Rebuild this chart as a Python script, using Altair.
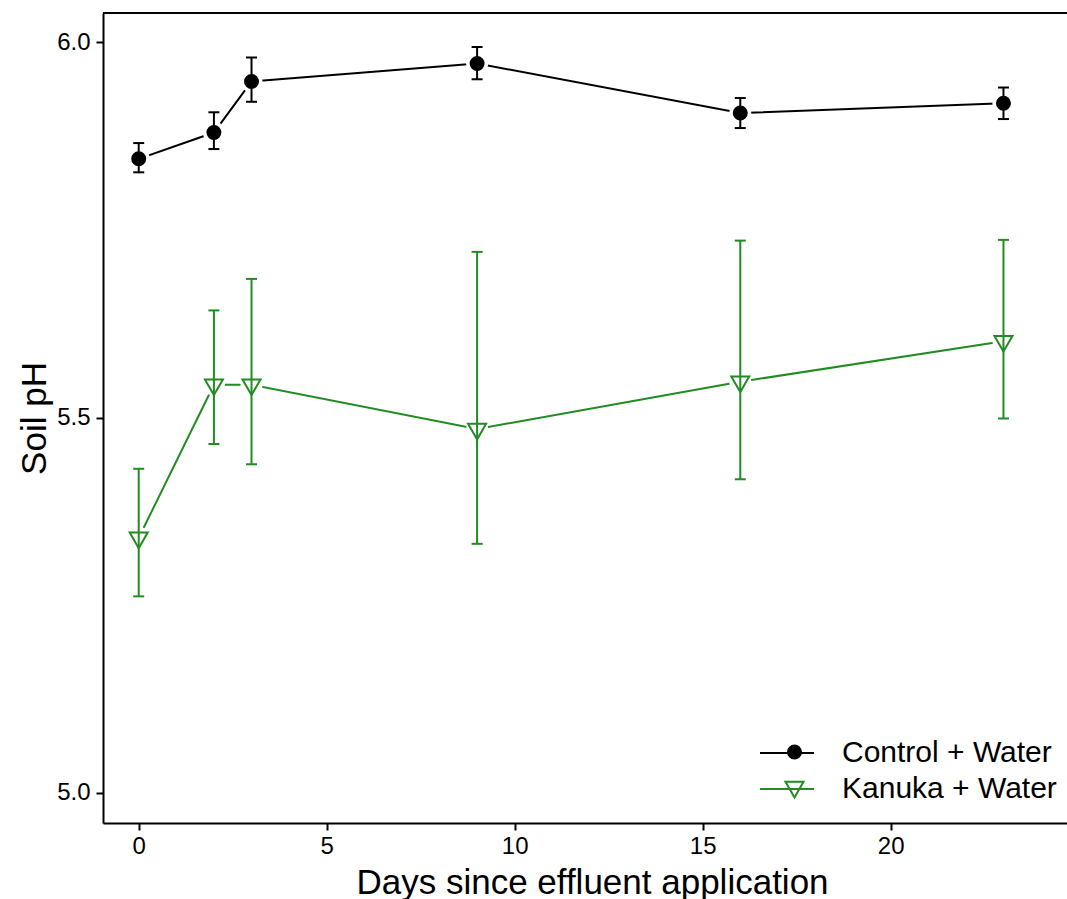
import altair as alt
import pandas as pd

# ---- data ----
days = [0, 2, 3, 9, 16, 23]
series_names = ["Control + Water", "Kanuka + Water"]
control_mean = [5.845, 5.880, 5.948, 5.972, 5.906, 5.919]
control_lo = [5.827, 5.858, 5.921, 5.951, 5.886, 5.898]
control_hi = [5.866, 5.907, 5.980, 5.994, 5.926, 5.940]
kanuka_mean = [5.340, 5.544, 5.544, 5.485, 5.548, 5.602]
kanuka_lo = [5.262, 5.465, 5.438, 5.332, 5.418, 5.499]
kanuka_hi = [5.432, 5.643, 5.685, 5.721, 5.736, 5.737]
x_ticks = [0, 5, 10, 15, 20]
y_ticks = [5.0, 5.5, 6.0]
colors = ["black", "#228B22"]

# second key for the marker legend (kept distinct so Vega-Lite does not merge legends)
marker_keys = [s + " (marker)" for s in series_names]

rows = []
for name, key, m, lo, hi in [
    (series_names[0], marker_keys[0], control_mean, control_lo, control_hi),
    (series_names[1], marker_keys[1], kanuka_mean, kanuka_lo, kanuka_hi),
]:
    for d, mv, l, h in zip(days, m, lo, hi):
        rows.append({"series": name, "marker": key, "day": d, "mean": mv, "lo": l, "hi": h})
df = pd.DataFrame(rows)

FONT = "Liberation Sans"
W, H = 964, 810

tri_down = "M0,1.6L1.385,-0.8L-1.385,-0.8Z"
legend_line = "M-1.8,0L1.8,0"

xs = alt.Scale(domain=[-0.95, 24.69], nice=False, zero=False)
ys = alt.Scale(domain=[4.96, 6.0393], nice=False, zero=False)

x_enc = alt.X("day:Q", scale=xs, axis=alt.Axis(
    values=x_ticks, title="Days since effluent application", grid=False,
    domainColor="black", domainWidth=2, tickColor="black", tickWidth=2, tickSize=7,
    labelFont=FONT, labelFontSize=24, labelColor="black", labelPadding=4,
    titleFont=FONT, titleFontSize=35, titleFontWeight="normal", titleColor="black",
    titleX=489, titleY=70, titleBaseline="alphabetic", titleAlign="center"))
y_enc = alt.Y("mean:Q", scale=ys, axis=alt.Axis(
    values=y_ticks, format=".1f", title="Soil pH", grid=False,
    domainColor="black", domainWidth=2, tickColor="black", tickWidth=2, tickSize=7,
    labelFont=FONT, labelFontSize=24, labelColor="black", labelPadding=6,
    titleFont=FONT, titleFontSize=35, titleFontWeight="normal", titleColor="black",
    titleX=-58, titleY=405, titleAngle=270, titleBaseline="alphabetic", titleAlign="center"))

color_scale = alt.Scale(domain=series_names, range=colors)

line_legend = alt.Legend(
    orient="none", legendX=668, legendY=724, title=None, symbolType=legend_line,
    symbolSize=900, symbolStrokeWidth=2, labelFont=FONT, labelFontSize=30,
    labelColor="black", labelOffset=39, rowPadding=5, padding=0, labelLimit=500)

shape_legend = alt.Legend(
    orient="none", legendX=676.5, legendY=724, title=None, symbolSize=169,
    symbolStrokeWidth=2, labelFont=FONT, labelFontSize=30, labelExpr="' '",
    labelOffset=27, rowPadding=5, padding=0, labelLimit=500)

base = alt.Chart(df)

lines = base.mark_line(strokeWidth=2).encode(
    x=x_enc, y=y_enc,
    color=alt.Color("series:N", scale=color_scale, legend=line_legend),
    order="day:Q")

halo = base.mark_point(shape="circle", filled=True, color="white", size=484, opacity=1).encode(
    x="day:Q", y="mean:Q")

bars = base.mark_rule(strokeWidth=2).encode(
    x="day:Q", y="lo:Q", y2="hi:Q",
    color=alt.Color("series:N", scale=color_scale, legend=None))

cap_lo = base.mark_tick(orient="horizontal", size=11, thickness=2, opacity=1).encode(
    x="day:Q", y="lo:Q",
    color=alt.Color("series:N", scale=color_scale, legend=None))
cap_hi = base.mark_tick(orient="horizontal", size=11, thickness=2, opacity=1).encode(
    x="day:Q", y="hi:Q",
    color=alt.Color("series:N", scale=color_scale, legend=None))

points = base.mark_point(size=169, strokeWidth=2, opacity=1).encode(
    x="day:Q", y="mean:Q",
    shape=alt.Shape("marker:N", scale=alt.Scale(domain=marker_keys, range=["circle", tri_down]), legend=shape_legend),
    fill=alt.Fill("marker:N", scale=alt.Scale(domain=marker_keys, range=["black", "transparent"]), legend=shape_legend),
    stroke=alt.Stroke("marker:N", scale=alt.Scale(domain=marker_keys, range=colors), legend=shape_legend))

top_border = base.mark_rule(color="black", strokeWidth=2).encode(
    x=alt.value(0), x2=alt.value(W), y=alt.value(0))

chart = alt.layer(lines, halo, bars, cap_lo, cap_hi, points, top_border).properties(
    width=W, height=H,
    autosize=alt.AutoSizeParams(type="none"),
    padding={"left": 103, "top": 13, "right": 0, "bottom": 76},
).configure_view(stroke=None).configure(background="white")

chart.save("out.html", embed_options={"renderer": "svg", "actions": False})
